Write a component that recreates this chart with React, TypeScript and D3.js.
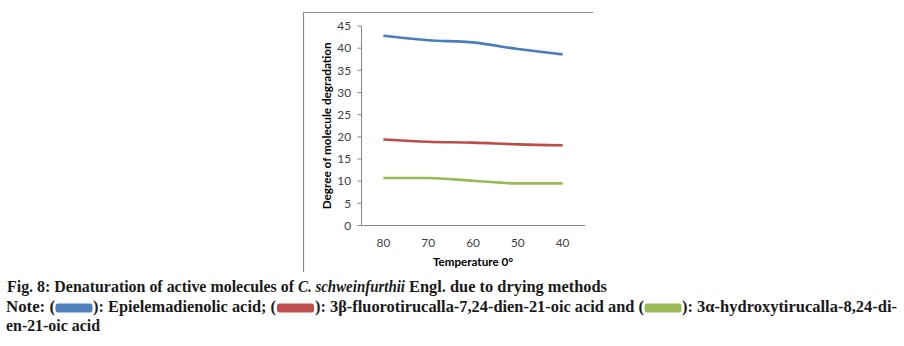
import React from "react";
import * as d3 from "d3";

const categories = ["80", "70", "60", "50", "40"];
const seriesNames = [
  "Epielemadienolic acid",
  "3β-fluorotirucalla-7,24-dien-21-oic acid",
  "3α-hydroxytirucalla-8,24-dien-21-oic acid",
];
const blueValues = [42.8, 41.8, 41.3, 39.8, 38.6];
const redValues = [19.4, 18.9, 18.7, 18.3, 18.1];
const greenValues = [10.7, 10.7, 10.1, 9.5, 9.5];
const yTicks = [0, 5, 10, 15, 20, 25, 30, 35, 40, 45];

const colors = ["#4a7ebb", "#be4b48", "#98b954"];
const swatchColors = ["#4f81bd", "#c0504d", "#9bbb59"];

export default function App() {
  const x = d3.scaleBand<string>().domain(categories).range([361, 585]).padding(0);
  const y = d3.scaleLinear().domain([0, 45]).range([225.5, 26]);
  const cx = (c: string) => (x(c) as number) + x.bandwidth() / 2;
  const line = d3
    .line<number>()
    .x((_, i) => cx(categories[i]))
    .y((d) => y(d))
    .curve(d3.curveMonotoneX);
  const series = [blueValues, redValues, greenValues];
  const chartFont = "Lato, 'Open Sans', sans-serif";
  const capFont = "'Liberation Serif', 'Times New Roman', serif";
  const axisColor = "#868686";

  return (
    <svg
      width={904}
      height={346}
      style={{ position: "absolute", left: 0, top: 0, background: "#fff" }}
    >
      {/* chart frame (top & left edges visible) */}
      <line x1={303} x2={593} y1={12.5} y2={12.5} stroke="#8c8c8c" strokeWidth={1.2} />
      <line x1={303.5} x2={303.5} y1={12} y2={272} stroke="#8c8c8c" strokeWidth={1.2} />

      {/* y axis */}
      <line x1={361.5} x2={361.5} y1={y(45)} y2={y(0)} stroke={axisColor} />
      {yTicks.map((t) => (
        <g key={t}>
          <line x1={357.5} x2={361.5} y1={y(t)} y2={y(t)} stroke={axisColor} />
          <text
            x={351}
            y={y(t)}
            dy="0.36em"
            textAnchor="end"
            fontFamily={chartFont}
            fontSize={11.8}
            fill="#404040"
          >
            {t}
          </text>
        </g>
      ))}
      {/* x axis */}
      <line x1={361} x2={585} y1={y(0)} y2={y(0)} stroke={axisColor} />
      {categories.map((c) => (
        <text
          key={c}
          x={cx(c)}
          y={246.5}
          textAnchor="middle"
          fontFamily={chartFont}
          fontSize={11.8}
          fill="#404040"
        >
          {c}
        </text>
      ))}

      {/* axis titles */}
      <text
        x={473}
        y={266}
        textAnchor="middle"
        fontFamily={chartFont}
        fontSize={12}
        fontWeight="bold"
        fill="#000"
        textLength={80}
        lengthAdjust="spacingAndGlyphs"
      >
        Temperature 0°
      </text>
      <text
        transform="translate(330.5,125.8) rotate(-90)"
        textAnchor="middle"
        fontFamily={chartFont}
        fontSize={12}
        fontWeight="bold"
        fill="#000"
        textLength={167}
        lengthAdjust="spacingAndGlyphs"
      >
        Degree of molecule degradation
      </text>

      {/* lines */}
      {series.map((s, i) => (
        <path
          key={i}
          d={line(s) as string}
          fill="none"
          stroke={colors[i]}
          strokeWidth={2.6}
          strokeLinecap="butt"
        />
      ))}

      {/* caption */}
      <g fontFamily={capFont} fontSize={16} fontWeight="bold" fill="#1a1a1a">
        <text x={7} y={292} textLength={287} lengthAdjust="spacingAndGlyphs">
          Fig. 8: Denaturation of active molecules of
        </text>
        <text x={298} y={292} fontStyle="italic" textLength={107} lengthAdjust="spacingAndGlyphs">
          C. schweinfurthii
        </text>
        <text x={409} y={292} textLength={198} lengthAdjust="spacingAndGlyphs">
          Engl. due to drying methods
        </text>

        <text x={6} y={312} textLength={49} lengthAdjust="spacingAndGlyphs">
          Note: (
        </text>
        <rect x={55.5} y={303.5} width={37} height={9} rx={2.5} fill={swatchColors[0]} />
        <text x={93} y={312} textLength={183} lengthAdjust="spacingAndGlyphs">
          {"): " + seriesNames[0] + "; ("}
        </text>
        <rect x={277} y={303.5} width={37} height={9} rx={2.5} fill={swatchColors[1]} />
        <text x={315} y={312} textLength={329} lengthAdjust="spacingAndGlyphs">
          {"): " + seriesNames[1] + " and ("}
        </text>
        <rect x={644.5} y={303.5} width={37} height={9} rx={2.5} fill={swatchColors[2]} />
        <text x={682} y={312} textLength={215} lengthAdjust="spacingAndGlyphs">
          ): 3α-hydroxytirucalla-8,24-di-
        </text>
        <text x={6} y={331} textLength={94} lengthAdjust="spacingAndGlyphs">
          en-21-oic acid
        </text>
      </g>
    </svg>
  );
}
